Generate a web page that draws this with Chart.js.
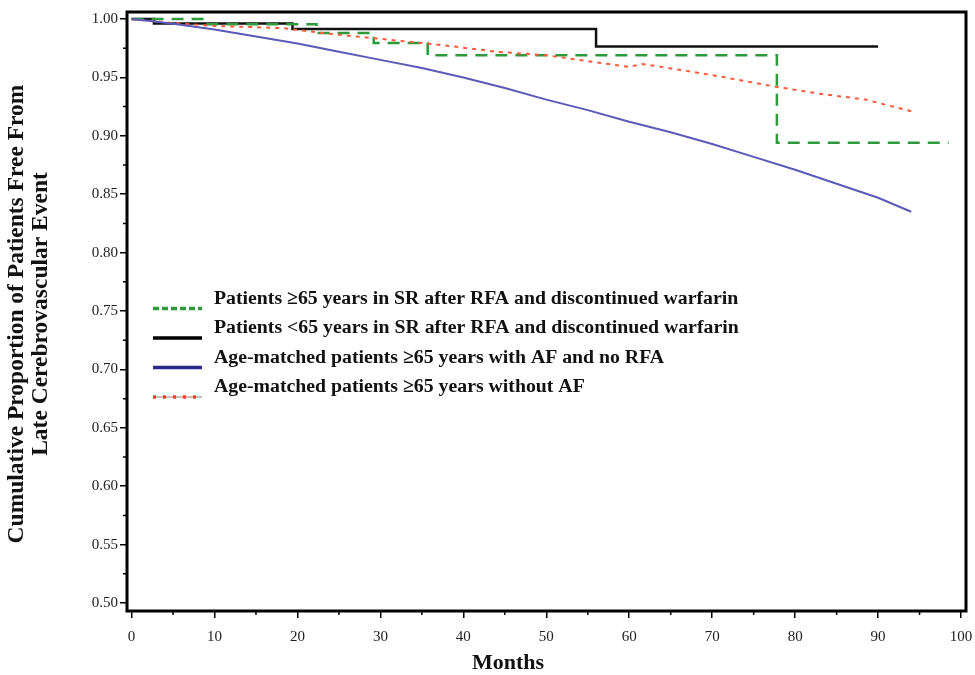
<!DOCTYPE html>
<html>
<head>
<meta charset="utf-8">
<script src="https://cdn.jsdelivr.net/npm/chart.js@4"></script>
<style>
  body { margin: 0; background: #fff; }
  #wrap { width: 975px; height: 675px; position: relative; }
</style>
</head>
<body>
<div id="wrap"><canvas id="kmChart"></canvas></div>
<script>
// Kaplan-Meier style curves
const olderSrMonths = [0, 9, 22.3, 29.2, 35.7, 77.8, 98.5];
const olderSrValues = [1.0, 0.9955, 0.988, 0.9795, 0.969, 0.894, 0.894];

const youngerSrMonths = [0, 2.7, 19.4, 56, 90];
const youngerSrValues = [1.0, 0.9962, 0.9915, 0.9765, 0.9765];

const afNoRfaMonths = [0, 2.5, 5, 10, 15, 20, 25, 30, 35, 40, 45, 50, 55, 60, 65, 70, 75, 80, 85, 90, 94];
const afNoRfaValues = [1.0, 0.998, 0.996, 0.991, 0.985, 0.979, 0.972, 0.965, 0.958, 0.95, 0.941, 0.931, 0.922, 0.912, 0.903, 0.893, 0.882, 0.871, 0.859, 0.847, 0.835];

const noAfMonths = [0, 5, 10, 15, 18.5, 23, 30, 37, 44, 50, 53, 58, 60, 61.5, 63, 70, 77.7, 83, 88.5, 94];
const noAfValues = [1.0, 0.9965, 0.994, 0.993, 0.992, 0.988, 0.983, 0.978, 0.972, 0.969, 0.966, 0.961, 0.959, 0.9615, 0.96, 0.952, 0.942, 0.936, 0.931, 0.921];

const xTicks = [0, 10, 20, 30, 40, 50, 60, 70, 80, 90, 100];
const yTicks = [0.5, 0.55, 0.6, 0.65, 0.7, 0.75, 0.8, 0.85, 0.9, 0.95, 1.0];

const legendLabels = [
  "Patients \u226565 years in SR after RFA and discontinued warfarin",
  "Patients <65 years in SR after RFA and discontinued warfarin",
  "Age-matched patients \u226565 years with AF and no RFA",
  "Age-matched patients \u226565 years without AF"
];

const toPoints = (xs, ys) => xs.map((x, i) => ({ x: x, y: ys[i] }));

const serif = "'Liberation Serif', 'Times New Roman', serif";

// frame, minor ticks, legend and axis titles
const decorations = {
  id: "decorations",
  afterDraw(chart) {
    const ctx = chart.ctx;
    const area = chart.chartArea;
    const xs = chart.scales.x;
    const ys = chart.scales.y;
    ctx.save();

    ctx.strokeStyle = "#000";
    ctx.lineWidth = 3;
    ctx.strokeRect(area.left, area.top, area.right - area.left, area.bottom - area.top);

    ctx.lineWidth = 1.5;
    ctx.beginPath();
    for (let v = 5; v < 100; v += 10) {
      const px = xs.getPixelForValue(v);
      ctx.moveTo(px, area.bottom);
      ctx.lineTo(px, area.bottom + 4);
    }
    for (let v = 0.525; v < 1; v += 0.05) {
      const py = ys.getPixelForValue(v);
      ctx.moveTo(area.left, py);
      ctx.lineTo(area.left - 4, py);
    }
    ctx.stroke();

    // legend
    const samples = [
      { color: "#2f9a3c", dash: [6, 3], width: 3.5 },
      { color: "#000", dash: [], width: 3.5 },
      { color: "#2a2a8a", dash: [], width: 3.5 },
      { color: "#ff3b2b", dash: [3, 7], width: 3.5 }
    ];
    ctx.font = "bold 19.8px " + serif;
    ctx.fillStyle = "#111";
    ctx.textBaseline = "middle";
    ctx.textAlign = "left";
    legendLabels.forEach((label, i) => {
      const cy = 298.5 + i * 29.5;
      const s = samples[i];
      if (i === 3) {
        ctx.setLineDash([]);
        ctx.strokeStyle = "#c9a0a0";
        ctx.lineWidth = 1.5;
        ctx.beginPath();
        ctx.moveTo(153, cy + 10);
        ctx.lineTo(202, cy + 10);
        ctx.stroke();
      }
      ctx.setLineDash(s.dash);
      ctx.strokeStyle = s.color;
      ctx.lineWidth = s.width;
      ctx.beginPath();
      ctx.moveTo(153, cy + 10);
      ctx.lineTo(202, cy + 10);
      ctx.stroke();
      ctx.fillText(label, 214, cy);
    });
    ctx.setLineDash([]);

    // axis titles
    ctx.font = "bold 22px " + serif;
    ctx.textAlign = "center";
    ctx.fillText("Months", 508, 663);
    ctx.font = "bold 23.5px " + serif;
    ctx.translate(29, 314);
    ctx.rotate(-Math.PI / 2);
    ctx.fillText("Cumulative Proportion of Patients Free From", 0, -12);
    ctx.fillText("Late Cerebrovascular Event", 0, 12);
    ctx.restore();
  }
};

const ctx = document.getElementById("kmChart").getContext("2d");
const kmChart = new Chart(ctx, {
  type: "line",
  data: {
    datasets: [
      {
        label: legendLabels[2],
        data: toPoints(afNoRfaMonths, afNoRfaValues),
        borderColor: "#5a5ab8",
        borderWidth: 2,
        pointRadius: 0,
        tension: 0
      },
      {
        label: legendLabels[3],
        data: toPoints(noAfMonths, noAfValues),
        borderColor: "#ff5a3a",
        borderWidth: 2,
        borderDash: [4, 5],
        pointRadius: 0,
        tension: 0
      },
      {
        label: legendLabels[0],
        data: toPoints(olderSrMonths, olderSrValues),
        borderColor: "#2f9a3c",
        borderWidth: 2.5,
        borderDash: [12, 8],
        pointRadius: 0,
        stepped: "before"
      },
      {
        label: legendLabels[1],
        data: toPoints(youngerSrMonths, youngerSrValues),
        borderColor: "#111",
        borderWidth: 2.5,
        pointRadius: 0,
        stepped: "before"
      }
    ]
  },
  options: {
    responsive: true,
    maintainAspectRatio: false,
    animation: false,
    layout: { padding: { top: 12, right: 9, left: 0, bottom: 0 } },
    plugins: {
      legend: { display: false },
      tooltip: { enabled: false }
    },
    scales: {
      x: {
        type: "linear",
        min: -0.55,
        max: 100.6,
        afterBuildTicks: (scale) => {
          scale.ticks = xTicks.map((v) => ({ value: v }));
        },
        afterFit: (scale) => {
          scale.height = 64;
          scale.paddingLeft = 0;
          scale.paddingRight = 0;
        },
        border: { display: false },
        grid: { drawOnChartArea: false, drawTicks: true, tickLength: 7, color: "#000", lineWidth: 1.5 },
        ticks: {
          padding: 10,
          maxRotation: 0,
          color: "#222",
          font: { family: serif, size: 15 },
          callback: (v) => String(v)
        }
      },
      y: {
        min: 0.4932,
        max: 1.006,
        afterBuildTicks: (scale) => {
          scale.ticks = yTicks.map((v) => ({ value: v }));
        },
        afterFit: (scale) => {
          scale.width = 127;
          scale.paddingTop = 0;
          scale.paddingBottom = 0;
        },
        border: { display: false },
        grid: { drawOnChartArea: false, drawTicks: true, tickLength: 7, color: "#000", lineWidth: 1.5 },
        ticks: {
          padding: 2,
          color: "#222",
          font: { family: serif, size: 15 },
          callback: (v) => Number(v).toFixed(2)
        }
      }
    }
  },
  plugins: [decorations]
});
</script>
</body>
</html>
